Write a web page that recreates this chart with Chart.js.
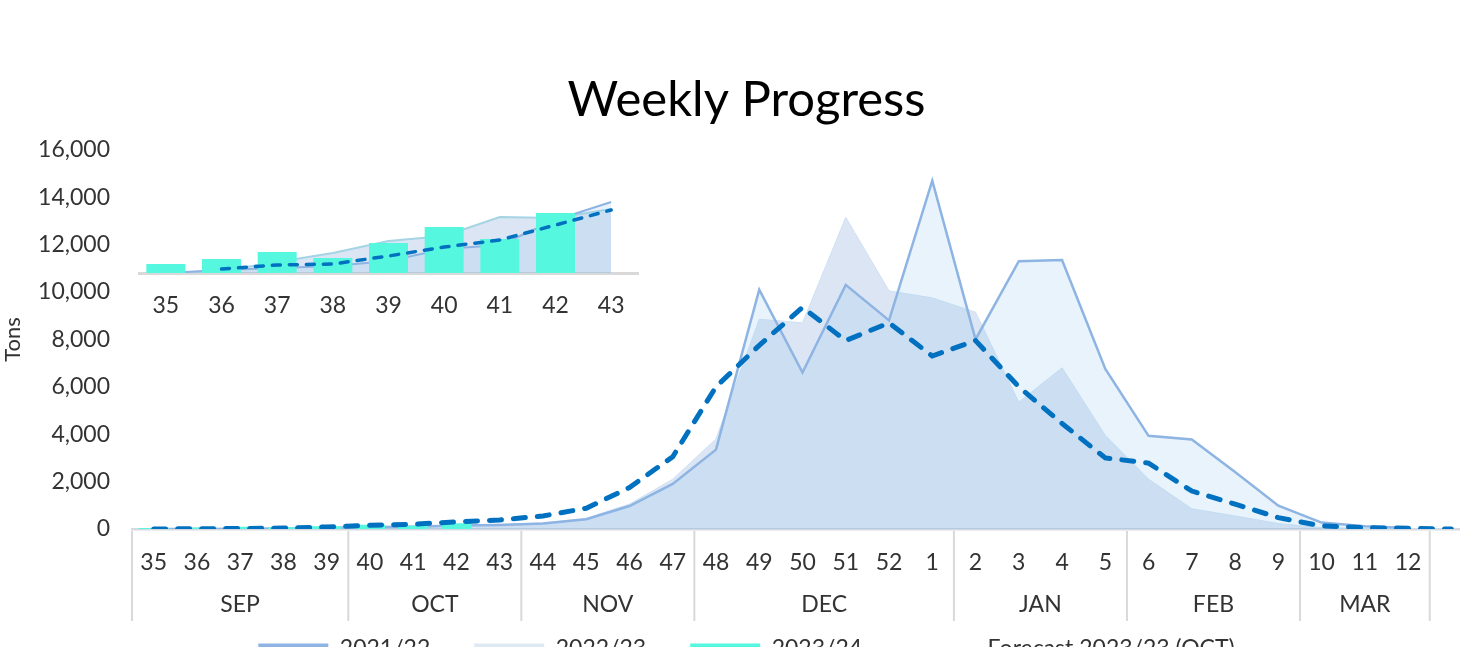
<!DOCTYPE html>
<html>
<head>
<meta charset="utf-8">
<script src="https://cdn.jsdelivr.net/npm/chart.js@4/dist/chart.umd.min.js"></script>
<style>
  html, body { margin: 0; padding: 0; background: #fff; overflow: hidden; }
  #wrap { position: relative; width: 1493px; height: 670px; }
  #inset { position: absolute; left: 138px; top: 193px; }
</style>
</head>
<body>
<div id="wrap">
  <canvas id="main" width="1493" height="670"></canvas>
  <canvas id="inset" width="501" height="125"></canvas>
</div>
<script>
// --- datos principales (semanas 35 .. 12 + una vacia al final) ---
const weeks = ['35','36','37','38','39','40','41','42','43','44','45','46','47','48','49','50','51','52',
               '1','2','3','4','5','6','7','8','9','10','11','12',''];
const months = ['SEP', 'OCT', 'NOV', 'DEC', 'JAN', 'FEB', 'MAR'];
const monthWeeks = [5, 4, 4, 6, 4, 4, 3];

const season2122 = [0, 0, 10, 20, 40, 80, 100, 150, 170, 230, 410, 970, 1900, 3350, 10100, 6600, 10300, 8800,
                    14700, 8000, 11300, 11350, 6750, 3930, 3780, 2400, 980, 270, 120, 40, null];
const season2223 = [0, 0, 10, 20, 40, 80, 120, 160, 200, 250, 450, 1050, 2100, 3800, 8850, 8700, 13150, 10050,
                    9750, 9150, 5350, 6800, 3950, 2100, 850, 550, 230, 60, 20, 0, null];
const season2324 = [40, 60, 90, 70, 120, 180, 140, 240, null, null, null, null, null, null, null, null, null, null,
                    null, null, null, null, null, null, null, null, null, null, null, null, null];
const forecast = [0, 10, 20, 40, 85, 155, 200, 300, 380, 550, 875, 1750, 3050, 6000, 7750, 9350, 7950, 8700,
                  7300, 7950, 6000, 4450, 3000, 2780, 1600, 1050, 480, 130, 60, 30, 0];

// --- datos del recuadro (zoom semanas 35-43) ---
const insetWeeks = ['35','36','37','38','39','40','41','42','43'];
const inset2122 = [0, 15, 25, 35, 60, 120, 140, 265, 355];
const inset2223 = [0, 10, 55, 100, 160, 185, 280, 275, 320];
const inset2324 = [45, 70, 105, 75, 150, 230, 170, 300, null];
const insetForecast = [null, 20, 40, 45, 85, 130, 165, 240, 315];

const FONT = 'Lato';
const TXT = '#333333';

// Fila de meses debajo de las semanas
const monthRow = {
  id: 'monthRow',
  afterDraw(chart) {
    const x = chart.scales.x;
    const ctx = chart.ctx;
    const w = x.getPixelForValue(1) - x.getPixelForValue(0);
    const top = chart.chartArea.bottom + 2;
    const bottom = top + 90;
    const edge = idx => x.getPixelForValue(idx) - w / 2;
    const line = px => { ctx.beginPath(); ctx.moveTo(px, top); ctx.lineTo(px, bottom); ctx.stroke(); };
    ctx.save();
    ctx.strokeStyle = '#D9D9D9';
    ctx.lineWidth = 2;
    ctx.font = '23px ' + FONT;
    ctx.fillStyle = TXT;
    ctx.textAlign = 'center';
    ctx.textBaseline = 'middle';
    line(edge(0));
    let i = 0;
    months.forEach((m, k) => {
      const a = edge(i), b = edge(i + monthWeeks[k]);
      line(b);
      ctx.fillText(m, (a + b) / 2, top + 74);
      i += monthWeeks[k];
    });
    line(edge(weeks.length));
    ctx.restore();
  }
};

const fill2122 = 'rgba(150, 200, 235, 0.22)';
const fill2223 = 'rgba(140, 170, 220, 0.30)';

new Chart(document.getElementById('main'), {
  type: 'line',
  data: {
    labels: weeks,
    datasets: [
      { label: '2021/22', data: season2122, order: 2, fill: 'origin',
        borderColor: '#8DB4E2', backgroundColor: fill2122, borderWidth: 2.5,
        pointRadius: 0, tension: 0, legendColor: '#8DB4E2' },
      { label: '2022/23', data: season2223, order: 3, fill: 'origin',
        borderColor: 'rgba(205, 225, 243, 1)', backgroundColor: fill2223, borderWidth: 1,
        pointRadius: 0, tension: 0, legendColor: '#DFE9F4' },
      { type: 'bar', label: '2023/24', data: season2324, order: 1,
        backgroundColor: '#55F8DE', barPercentage: 0.7, categoryPercentage: 1.0, legendColor: '#55F8DE' },
      { label: 'Forecast 2023/23 (OCT)', data: forecast, order: 0, fill: false,
        borderColor: '#0070C0', borderWidth: 5, borderDash: [12, 12], borderCapStyle: 'round',
        pointRadius: 0, tension: 0, legendColor: 'rgba(0,0,0,0)' }
    ]
  },
  options: {
    responsive: false,
    animation: false,
    layout: { padding: { top: 71, right: 20, left: 20, bottom: 0 } },
    plugins: {
      title: { display: true, text: 'Weekly Progress', color: '#000',
               font: { family: FONT, size: 49, weight: 'normal' }, padding: { top: 0, bottom: 20 } },
      legend: {
        position: 'bottom',
        labels: {
          font: { family: FONT, size: 23 }, color: TXT, boxWidth: 70, boxHeight: 10, padding: 44,
          sort: (a, b) => a.datasetIndex - b.datasetIndex,
          generateLabels(chart) {
            const items = Chart.defaults.plugins.legend.labels.generateLabels(chart);
            items.forEach(it => {
              const ds = chart.data.datasets[it.datasetIndex];
              it.fillStyle = ds.legendColor;
              it.strokeStyle = ds.legendColor;
              it.lineWidth = 0;
              it.lineDash = [];
            });
            return items;
          }
        }
      },
      tooltip: { enabled: false }
    },
    scales: {
      x: {
        offset: true,
        grid: { display: false },
        border: { display: true, color: '#D5DAE0', width: 2.5 },
        ticks: { font: { family: FONT, size: 23 }, color: TXT, padding: 12, maxRotation: 0, autoSkip: false },
        afterFit: s => { s.height = 64; }
      },
      y: {
        min: 0, max: 16000,
        grid: { display: false },
        border: { display: false },
        ticks: { stepSize: 2000, font: { family: FONT, size: 23 }, color: TXT, padding: 14,
                 callback: v => v.toLocaleString('en-US') },
        title: { display: true, text: 'Tons', font: { family: FONT, size: 22 }, color: TXT,
                 padding: { top: -20, bottom: 0 } },
        afterFit: s => { s.width = 112; }
      }
    }
  },
  plugins: [monthRow]
});

// Recuadro con el detalle de las primeras semanas
new Chart(document.getElementById('inset'), {
  type: 'line',
  data: {
    labels: insetWeeks,
    datasets: [
      { label: '2021/22', data: inset2122, order: 2, fill: 'origin',
        borderColor: '#8DB4E2', backgroundColor: fill2122, borderWidth: 2,
        pointRadius: 0, tension: 0 },
      { label: '2022/23', data: inset2223, order: 3, fill: 'origin',
        borderColor: 'rgba(165, 212, 228, 1)', backgroundColor: fill2223, borderWidth: 2,
        pointRadius: 0, tension: 0 },
      { type: 'bar', label: '2023/24', data: inset2324, order: 1,
        backgroundColor: '#55F8DE', barPercentage: 0.7, categoryPercentage: 1.0 },
      { label: 'Forecast', data: insetForecast, order: 0, fill: false,
        borderColor: '#0070C0', borderWidth: 3.5, borderDash: [8, 9], borderCapStyle: 'round',
        pointRadius: 0, tension: 0 }
    ]
  },
  options: {
    responsive: false,
    animation: false,
    layout: { padding: 0 },
    plugins: { legend: { display: false }, title: { display: false }, tooltip: { enabled: false } },
    scales: {
      x: {
        offset: true,
        grid: { display: false },
        border: { display: true, color: '#D9D9D9', width: 3 },
        ticks: { font: { family: FONT, size: 23 }, color: TXT, padding: 11, maxRotation: 0, autoSkip: false },
        afterFit: s => { s.height = 45; }
      },
      y: { display: false, min: 0, max: 400 }
    }
  }
});
</script>
</body>
</html>
